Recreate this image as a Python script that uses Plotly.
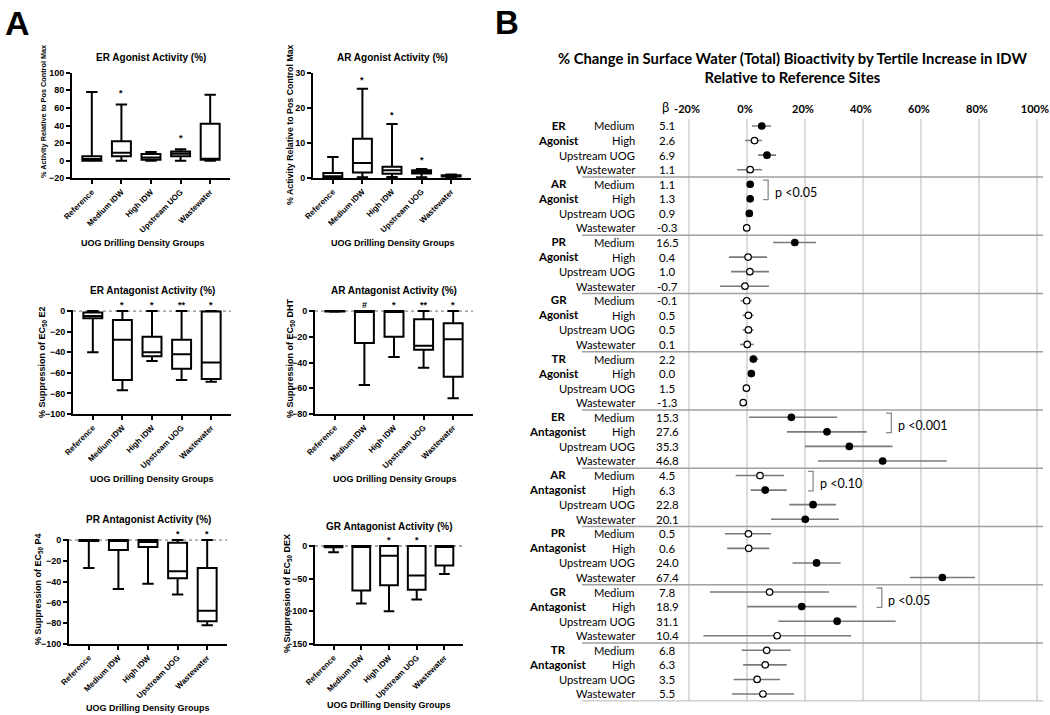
import plotly.graph_objects as go

W, H = 1050, 715


def px(x):
    return x / W


def py(y):
    return 1 - y / H


# ---------------- Panel A data (box statistics) ----------------
groups = ["Reference", "Medium IDW", "High IDW", "Upstream UOG", "Wastewater"]

er_ag_low = [0, 0, 0, 0, 0]
er_ag_q1 = [0, 5, 1, 5, 1]
er_ag_med = [2, 9, 3.5, 8, 2]
er_ag_q3 = [5, 22, 7.5, 10.5, 42]
er_ag_high = [78, 64, 10, 13, 75]
er_ag_sig = ["", "*", "", "*", ""]

ar_ag_low = [0, 0.2, 0.3, 0.2, 0.2]
ar_ag_q1 = [0.2, 1.6, 1.2, 1.3, 0.4]
ar_ag_med = [0.5, 4.3, 2.2, 1.8, 0.6]
ar_ag_q3 = [1.4, 11.2, 3.2, 2.2, 0.8]
ar_ag_high = [6, 25.5, 15.4, 2.6, 1.0]
ar_ag_sig = ["", "*", "*", "*", ""]

er_ant_low = [-40, -77, -48.5, -67, -68.7]
er_ant_q1 = [-7, -67, -44, -56, -66]
er_ant_med = [-4.8, -28, -40, -42, -50]
er_ant_q3 = [-1.5, -8.6, -25, -28, -0.5]
er_ant_high = [0, 0, 0, 0, 0]
er_ant_sig = ["", "*", "*", "**", "*"]

ar_ant_low = [-0.5, -57.5, -35.8, -44, -67.8]
ar_ant_q1 = [-0.3, -24.8, -19.9, -30, -51]
ar_ant_med = [0, 0, 0, -27, -22]
ar_ant_q3 = [0, 0, 0, -6.4, -9.5]
ar_ant_high = [0, 0, 0, 0, 0]
ar_ant_sig = ["", "#", "*", "**", "*"]

pr_ant_low = [-27, -47, -42, -52.5, -82]
pr_ant_q1 = [-1, -9.5, -6.6, -36.7, -78]
pr_ant_med = [-0.5, -0.5, -2, -30, -68]
pr_ant_q3 = [0, 0, 0, -2.5, -27]
pr_ant_high = [0, 0, 0, 0, 0]
pr_ant_sig = ["", "", "", "*", "*"]

gr_ant_low = [-9.6, -88, -100, -82, -43]
gr_ant_q1 = [-2, -68, -60, -67, -30]
gr_ant_med = [-1, -0.5, -15, -45, -0.5]
gr_ant_q3 = [0, 0, 0, 0, 0]
gr_ant_high = [0, 0, 0, 0, 0]
gr_ant_sig = ["", "", "*", "*", ""]

# ---------------- Panel B data ----------------
assays = ["ER Agonist", "AR Agonist", "PR Agonist", "GR Agonist", "TR Agonist",
          "ER Antagonist", "AR Antagonist", "PR Antagonist", "GR Antagonist", "TR Antagonist"]
levels = ["Medium", "High", "Upstream UOG", "Wastewater"]

beta = [5.1, 2.6, 6.9, 1.1,
        1.1, 1.3, 0.9, -0.3,
        16.5, 0.4, 1.0, -0.7,
        -0.1, 0.5, 0.5, 0.1,
        2.2, 0.0, 1.5, -1.3,
        15.3, 27.6, 35.3, 46.8,
        4.5, 6.3, 22.8, 20.1,
        0.5, 0.6, 24.0, 67.4,
        7.8, 18.9, 31.1, 10.4,
        6.8, 6.3, 3.5, 5.5]

estimate = [5.1, 2.6, 6.9, 1.1,
            1.1, 1.1, 0.8, -0.1,
            16.5, 0.4, 1.0, -0.7,
            -0.1, 0.5, 0.5, 0.1,
            2.2, 1.5, -0.2, -1.3,
            15.3, 27.6, 35.3, 46.8,
            4.5, 6.3, 22.8, 20.1,
            0.5, 0.6, 24.0, 67.4,
            7.8, 18.9, 31.1, 10.4,
            6.8, 6.3, 3.5, 5.5]

ci_low = [1.7, -0.6, 3.8, -3.4,
          0.7, 0.7, 0.4, -0.5,
          9.0, -6.2, -5.5, -9.3,
          -2.2, -1.5, -1.5, -2.4,
          1.0, 0.4, -1.1, -2.4,
          0.7, 13.8, 20.0, 24.5,
          -3.9, 1.3, 14.6, 8.3,
          -7.6, -6.8, 15.7, 56.2,
          -12.8, 0.1, 10.8, -15.0,
          -1.8, -1.3, -4.6, -5.2]

ci_high = [8.3, 5.2, 10.0, 5.2,
           1.5, 1.5, 1.2, 0.3,
           23.8, 6.9, 7.6, 7.6,
           1.6, 2.3, 2.3, 2.3,
           3.9, 2.6, 0.9, -0.2,
           31.1, 41.3, 50.2, 68.9,
           12.8, 13.7, 30.7, 31.7,
           8.3, 7.7, 32.3, 78.6,
           28.3, 37.8, 51.3, 35.9,
           15.1, 13.7, 11.4, 16.2]

significant = [1, 0, 1, 0,
               1, 1, 1, 0,
               1, 0, 0, 0,
               0, 0, 0, 0,
               1, 1, 0, 0,
               1, 1, 1, 1,
               0, 1, 1, 1,
               0, 0, 1, 1,
               0, 1, 1, 0,
               0, 0, 0, 0]

# Medium vs High trend comparisons
bracket_assays = ["AR Agonist", "ER Antagonist", "AR Antagonist", "GR Antagonist"]
bracket_text = ["p <0.05", "p <0.001", "p <0.10", "p <0.05"]

# ---------------- figure ----------------
ARIAL = "Arial, Liberation Sans, sans-serif"
CAL = "Lato, Carlito, sans-serif"

fig = go.Figure()
layout = dict(width=W, height=H, margin=dict(l=0, r=0, t=0, b=0),
              paper_bgcolor="white", plot_bgcolor="white", showlegend=False,
              template="none", font=dict(family=ARIAL, color="black"))
annotations = []
shapes = []


def note(text, x, y, size, family=ARIAL, bold=True, xanchor="center", yanchor="middle",
         xref="paper", yref="paper", **kw):
    annotations.append(dict(text=text, x=x, y=y, xref=xref, yref=yref, showarrow=False,
                            xanchor=xanchor, yanchor=yanchor,
                            font=dict(family=family, size=size, color="black",
                                      weight="bold" if bold else "normal"), **kw))


panels = [
    dict(stats=(er_ag_low, er_ag_q1, er_ag_med, er_ag_q3, er_ag_high), sig=er_ag_sig,
         title="ER Agonist Activity (%)", ytitle="% Activity Relative to Pos Control Max",
         xd=(72, 230), yd=(72.7, 178.3), yr=(-20, 100), dtick=20, zero=False,
         ty=57, ytx=43, yty=112, ytfs=7.3, xty=243, xtx=143, star=11),
    dict(stats=(ar_ag_low, ar_ag_q1, ar_ag_med, ar_ag_q3, ar_ag_high), sig=ar_ag_sig,
         title="AR Agonist Activity (%)", ytitle="% Activity Relative to Pos Control Max",
         xd=(313, 471), yd=(73, 178), yr=(0, 30), dtick=10, zero=False,
         ty=57, ytx=290, yty=125, ytfs=8.8, xty=243, xtx=393, star=9),
    dict(stats=(er_ant_low, er_ant_q1, er_ant_med, er_ant_q3, er_ant_high), sig=er_ant_sig,
         title="ER Antagonist Activity (%)", ytitle="% Suppression of EC<sub>50</sub> E2",
         xd=(73, 231), yd=(310, 414), yr=(-100, 0), dtick=20, zero=True,
         ty=290, ytx=42, yty=362, ytfs=9, xty=479, xtx=152, star=6),
    dict(stats=(ar_ant_low, ar_ant_q1, ar_ant_med, ar_ant_q3, ar_ant_high), sig=ar_ant_sig,
         title="AR Antagonist Activity (%)", ytitle="% Suppression of EC<sub>50</sub> DHT",
         xd=(315, 473), yd=(310, 414), yr=(-80, 0), dtick=20, zero=True,
         ty=290, ytx=290, yty=358, ytfs=9, xty=479, xtx=395, star=6),
    dict(stats=(pr_ant_low, pr_ant_q1, pr_ant_med, pr_ant_q3, pr_ant_high), sig=pr_ant_sig,
         title="PR Antagonist Activity (%)", ytitle="% Suppression of EC<sub>50</sub> P4",
         xd=(69, 227), yd=(539, 644), yr=(-100, 0), dtick=20, zero=True,
         ty=519, ytx=38, yty=589, ytfs=9, xty=708, xtx=148, star=6),
    dict(stats=(gr_ant_low, gr_ant_q1, gr_ant_med, gr_ant_q3, gr_ant_high), sig=gr_ant_sig,
         title="GR Antagonist Activity (%)", ytitle="% Suppression of EC<sub>50</sub> DEX",
         xd=(315, 463), yd=(545, 644), yr=(-150, 0), dtick=50, zero=True,
         ty=526, ytx=287, yty=594, ytfs=9, xty=705, xtx=389, star=6),
]

for i, p in enumerate(panels, start=1):
    sfx = "" if i == 1 else str(i)
    low, q1, med, q3, high = p["stats"]
    fig.add_trace(go.Box(
        x=groups, q1=q1, median=med, q3=q3, lowerfence=low, upperfence=high,
        boxpoints=False, fillcolor="white", line=dict(color="black", width=2),
        whiskerwidth=0.6, width=0.64, xaxis="x" + sfx, yaxis="y" + sfx,
        hoverinfo="skip"))
    pad = (p["yr"][1] - p["yr"][0]) * 0.01
    layout["xaxis" + sfx] = dict(
        domain=[px(p["xd"][0]), px(p["xd"][1])], anchor="y" + sfx,
        type="category", categoryorder="array", categoryarray=groups,
        range=[-0.67, 4.67], showline=True, linecolor="black", linewidth=2,
        ticks="outside", ticklen=4, tickwidth=2, tickcolor="black",
        tickangle=-45, tickfont=dict(family=ARIAL, size=8, weight="bold", color="black"),
        showgrid=False, zeroline=False, automargin=False, fixedrange=True)
    layout["yaxis" + sfx] = dict(
        domain=[py(p["yd"][1]), py(p["yd"][0])], anchor="x" + sfx,
        range=[p["yr"][0], p["yr"][1] + (pad if p["zero"] else 0)],
        dtick=p["dtick"], tick0=0,
        showline=True, linecolor="black", linewidth=2,
        ticks="outside", ticklen=4, tickwidth=2, tickcolor="black",
        tickfont=dict(family=ARIAL, size=9, weight="bold", color="black"),
        showgrid=False, zeroline=False, automargin=False, fixedrange=True)
    cx = (p["xd"][0] + p["xd"][1]) / 2
    note(p["title"], px(cx), py(p["ty"]), 10)
    note(p["ytitle"], px(p["ytx"]), py(p["yty"]), p["ytfs"], textangle=-90)
    note("UOG Drilling Density Groups", px(p["xtx"]), py(p["xty"]), 9)
    for g, s, top in zip(groups, p["sig"], high):
        if s:
            note(s, g, top, 9, xref="x" + sfx, yref="y" + sfx, yshift=p["star"])
    if p["zero"]:
        shapes.append(dict(type="line", xref="x" + sfx + " domain", x0=0, x1=1,
                           yref="y" + sfx, y0=0, y1=0, layer="below",
                           line=dict(color="#8a8a8a", width=1.3, dash="dot")))

# panel letters
note("A", px(3), py(23), 34, xanchor="left")
note("B", px(493), py(23), 33, xanchor="left")

# ---------------- Panel B ----------------
n_rows = len(beta)
rows = list(range(n_rows))
row_top, row_bot = 126, 694
step = (row_bot - row_top) / (n_rows - 1)

fig.add_trace(go.Scatter(
    x=estimate, y=rows, mode="markers", xaxis="x7", yaxis="y7",
    error_x=dict(type="data", symmetric=False,
                 array=[h - e for h, e in zip(ci_high, estimate)],
                 arrayminus=[e - l for e, l in zip(estimate, ci_low)],
                 color="#7a7a7a", thickness=1.6, width=0),
    marker=dict(size=6.5, color=["black" if s else "white" for s in significant],
                line=dict(color="black", width=1.2)),
    hoverinfo="skip"))

layout["xaxis7"] = dict(domain=[px(680), px(1043)], anchor="y7", side="top",
                        range=[-23.1, 102.1], tickvals=[-20, 0, 20, 40, 60, 80, 100],
                        ticktext=["-20%", "0%", "20%", "40%", "60%", "80%", "100%"],
                        showgrid=True, gridcolor="#dcdcdc", gridwidth=2,
                        showline=False, zeroline=False, ticks="", ticklabelstandoff=3,
                        ticklabeloverflow="allow", ticklabelshift=-2,
                        tickfont=dict(family=CAL, size=11, weight="bold", color="black"),
                        automargin=False, fixedrange=True)
layout["yaxis7"] = dict(domain=[py(row_bot + step / 2), py(row_top - step / 2)], anchor="x7",
                        range=[n_rows - 0.5, -0.5], showticklabels=False, showgrid=False,
                        zeroline=False, showline=False, automargin=False, fixedrange=True)

note("% Change in Surface Water (Total) Bioactivity by Tertile Increase in IDW<br>Relative to Reference Sites",
     px(792), py(68), 14.8, family=CAL)
note("β", px(666), py(107), 13, family=CAL, bold=False)

for r in rows:
    note(levels[r % 4], px(637), r, 11.2, family=CAL, bold=False, xanchor="right", yref="y7")
    note(f"{beta[r]:.1f}", px(667), r, 11.5, family=CAL, bold=False, yref="y7")

for gi, name in enumerate(assays):
    rec, kind = name.split(" ")
    note(f"{rec}<br>{kind}", px(558), gi * 4 + 0.45, 11.5, family=CAL, yref="y7")
    shapes.append(dict(type="line", xref="paper", x0=px(582), x1=px(1043), yref="y7",
                       y0=gi * 4 + 3.5, y1=gi * 4 + 3.5, line=dict(color="#a0a0a0", width=1.5)))

bracket_x = [5.5, 48.0, 21.0, 44.7]
for name, txt, xb in zip(bracket_assays, bracket_text, bracket_x):
    gi = assays.index(name)
    r0, r1 = gi * 4, gi * 4 + 1
    shapes.append(dict(type="path", xref="x7", yref="y7",
                       path=f"M {xb} {r0 - 0.28} L {xb + 1.8} {r0 - 0.28} L {xb + 1.8} {r1 + 0.05} L {xb} {r1 + 0.05}",
                       line=dict(color="#8a8a8a", width=1.3)))
    note(txt, xb + 3.4, (r0 + r1) / 2 + 0.05, 12.5, family=CAL, bold=False,
         xanchor="left", xref="x7", yref="y7")

layout["annotations"] = annotations
layout["shapes"] = shapes
fig.update_layout(**layout)
fig.write_html("out.html", config={"displayModeBar": False},
               post_script="document.body.style.margin='0';document.body.style.padding='0';")
